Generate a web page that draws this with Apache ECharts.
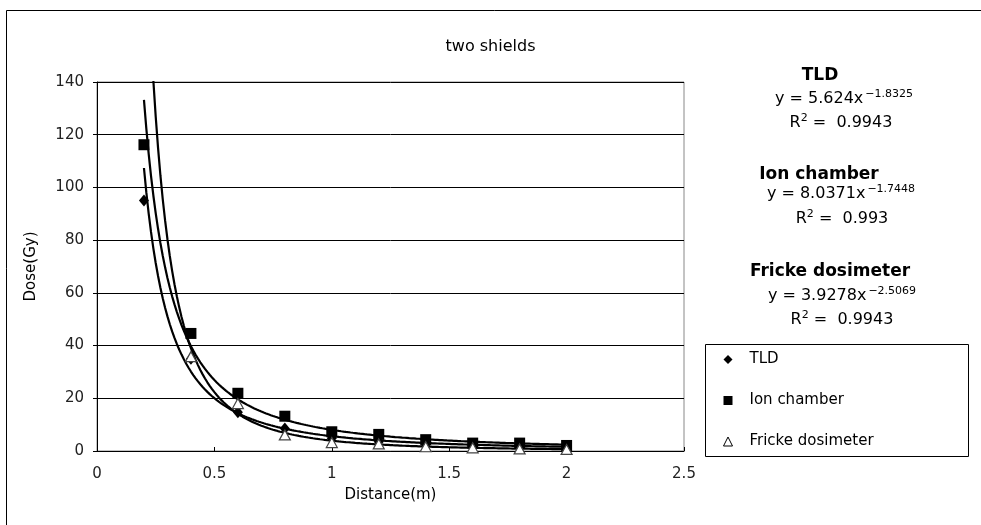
<!DOCTYPE html>
<html>
<head>
<meta charset="utf-8">
<script src="https://cdn.jsdelivr.net/npm/echarts@6/dist/echarts.min.js"></script>
<style>
html,body{margin:0;padding:0;background:#fff;}
#chart{width:981px;height:525px;}
</style>
</head>
<body>
<div id="chart"></div>
<script>
// ---- data ----
var distances = [0.2, 0.4, 0.6, 0.8, 1.0, 1.2, 1.4, 1.6, 1.8, 2.0];
var tldDose = [95, 35, 14.7, 8.5, 4.8, 3.5, 2.5, 2.0, 1.5, 1.2];
var ionDose = [116.2, 44.6, 21.9, 13.2, 7.3, 6.3, 4.3, 3.0, 3.0, 2.1];
var frickeDose = [null, 35.8, 18.0, 6.1, 3.2, 2.7, 1.6, 1.2, 0.8, 0.6];

// power trendlines as printed on the chart: y = a * x^b
var tldFit = [5.624, -1.8325];
var ionFit = [8.0371, -1.7448];
var frickeFit = [3.9278, -2.5069];
var fitRange = [0.2, 2.0];

var xTicks = [0, 0.5, 1, 1.5, 2, 2.5];
var yTicks = [0, 20, 40, 60, 80, 100, 120, 140];

var seriesNames = ['TLD', 'Ion chamber', 'Fricke dosimeter'];
var fitLabels = [
  {eq: ['5.624', '-1.8325'], r2: '0.9943'},
  {eq: ['8.0371', '-1.7448'], r2: '0.993'},
  {eq: ['3.9278', '-2.5069'], r2: '0.9943'}
];

function pairs(xs, ys) {
  var out = [];
  for (var i = 0; i < xs.length; i++) if (ys[i] != null) out.push([xs[i], ys[i]]);
  return out;
}
function fitCurve(fit) {
  var pts = [];
  var n = 180;
  for (var i = 0; i <= n; i++) {
    var x = fitRange[0] + (fitRange[1] - fitRange[0]) * i / n;
    pts.push([x, fit[0] * Math.pow(x, fit[1])]);
  }
  return pts;
}

var FONT = 'DejaVu Sans';
var chart = echarts.init(document.getElementById('chart'), null, {renderer: 'canvas'});

function lineSeries(fit) {
  return {
    type: 'line', data: fitCurve(fit), showSymbol: false, symbol: 'none',
    lineStyle: {color: '#000', width: 2.2, opacity: 1}, silent: true, z: 2, clip: true,
    legendHoverLink: false
  };
}

var textColor = '#000';
function eqText(cx, cy, eq) {
  return {
    type: 'text', x: cx, y: cy,
    style: {
      text: '{b|y = ' + eq[0] + 'x}{s|' + eq[1].replace('-', '\u2212') + '}',
      rich: {
        b: {fontFamily: FONT, fontSize: 16, fill: textColor},
        s: {fontFamily: FONT, fontSize: 11, fill: textColor, padding: [0, 0, 10, 2]}
      },
      align: 'center', verticalAlign: 'middle'
    }
  };
}
function r2Text(cx, cy, r2) {
  return {
    type: 'text', x: cx, y: cy,
    style: {
      text: '{b|R}{s|2}{b| =  ' + r2 + '}',
      rich: {
        b: {fontFamily: FONT, fontSize: 16, fill: textColor},
        s: {fontFamily: FONT, fontSize: 11, fill: textColor, padding: [0, 0, 10, 0]}
      },
      align: 'center', verticalAlign: 'middle'
    }
  };
}
function headText(cx, cy, t) {
  return {
    type: 'text', x: cx, y: cy,
    style: {text: t, fontFamily: FONT, fontSize: 17, fontWeight: 'bold', fill: textColor,
            align: 'center', verticalAlign: 'middle'}
  };
}

var option = {
  backgroundColor: '#fff',
  animation: false,
  title: {
    text: 'two shields', left: 'center', top: 34,
    textStyle: {fontFamily: FONT, fontSize: 16, fontWeight: 'normal', color: '#000'}
  },
  grid: {left: 97, right: 297, top: 82, bottom: 74, show: true, borderColor: '#888', borderWidth: 1},
  xAxis: {
    type: 'value', min: 0, max: 2.5, interval: 0.5,
    name: 'Distance(m)', nameLocation: 'middle', nameGap: 37,
    nameTextStyle: {fontFamily: FONT, fontSize: 15, color: '#000'},
    axisLine: {show: true, onZero: false, lineStyle: {color: '#000', width: 1}},
    axisTick: {show: true, inside: true, length: 4, lineStyle: {color: '#000'}},
    axisLabel: {fontFamily: FONT, fontSize: 15, color: '#222', margin: 16,
                formatter: function (v) { return xTicks.indexOf(v) >= 0 ? String(v) : ''; }},
    splitLine: {show: false}
  },
  yAxis: {
    type: 'value', min: 0, max: 140, interval: 20,
    name: 'Dose(Gy)', nameLocation: 'middle', nameGap: 58, nameRotate: 90,
    nameTextStyle: {fontFamily: FONT, fontSize: 15, color: '#000'},
    axisLine: {show: true, lineStyle: {color: '#000', width: 1}},
    axisTick: {show: true, inside: false, length: 4, lineStyle: {color: '#000'}},
    axisLabel: {fontFamily: FONT, fontSize: 15, color: '#222', margin: 13,
                formatter: function (v) { return yTicks.indexOf(v) >= 0 ? String(v) : ''; }},
    splitLine: {show: true, lineStyle: {color: '#000', width: 1}}
  },
  legend: {
    show: true, orient: 'vertical', left: 718, top: 347,
    itemWidth: 9, itemHeight: 9, itemGap: 26,
    data: [
      {name: seriesNames[0], icon: 'diamond', itemStyle: {color: '#000', opacity: 1}},
      {name: seriesNames[1], icon: 'rect', itemStyle: {color: '#000', opacity: 1}},
      {name: seriesNames[2], icon: 'triangle', itemStyle: {color: '#fff', borderColor: '#000', borderWidth: 1, opacity: 1}}
    ],
    textStyle: {fontFamily: FONT, fontSize: 15, color: '#000', padding: [0, 0, 0, 12]}
  },
  series: [
    lineSeries(tldFit), lineSeries(ionFit), lineSeries(frickeFit),
    {
      name: seriesNames[0], type: 'scatter', data: pairs(distances, tldDose),
      symbol: 'diamond', symbolSize: [10, 12], z: 4,
      itemStyle: {color: '#000', opacity: 1}
    },
    {
      name: seriesNames[1], type: 'scatter', data: pairs(distances, ionDose),
      symbol: 'rect', symbolSize: 11, z: 4,
      itemStyle: {color: '#000', opacity: 1}
    },
    {
      name: seriesNames[2], type: 'scatter', data: pairs(distances, frickeDose),
      symbol: 'triangle', symbolSize: [11, 10], z: 5,
      itemStyle: {color: '#fff', borderColor: '#444', borderWidth: 1.2, opacity: 1}
    }
  ],
  graphic: [
    {type: 'rect', shape: {x: 6.5, y: 10.5, width: 1000, height: 600},
     style: {fill: 'none', stroke: '#000', lineWidth: 1}, silent: true, z: -10},
    {type: 'rect', shape: {x: 705.5, y: 344.5, width: 263, height: 112},
     style: {fill: 'none', stroke: '#000', lineWidth: 1}, silent: true},
    headText(820, 76, 'TLD'),
    eqText(844, 99, fitLabels[0].eq),
    r2Text(841, 123, fitLabels[0].r2),
    headText(819, 175, 'Ion chamber'),
    eqText(841, 194, fitLabels[1].eq),
    r2Text(842, 219, fitLabels[1].r2),
    headText(830, 272, 'Fricke dosimeter'),
    eqText(842, 296, fitLabels[2].eq),
    r2Text(842, 320, fitLabels[2].r2)
  ]
};
chart.setOption(option);
</script>
</body>
</html>
